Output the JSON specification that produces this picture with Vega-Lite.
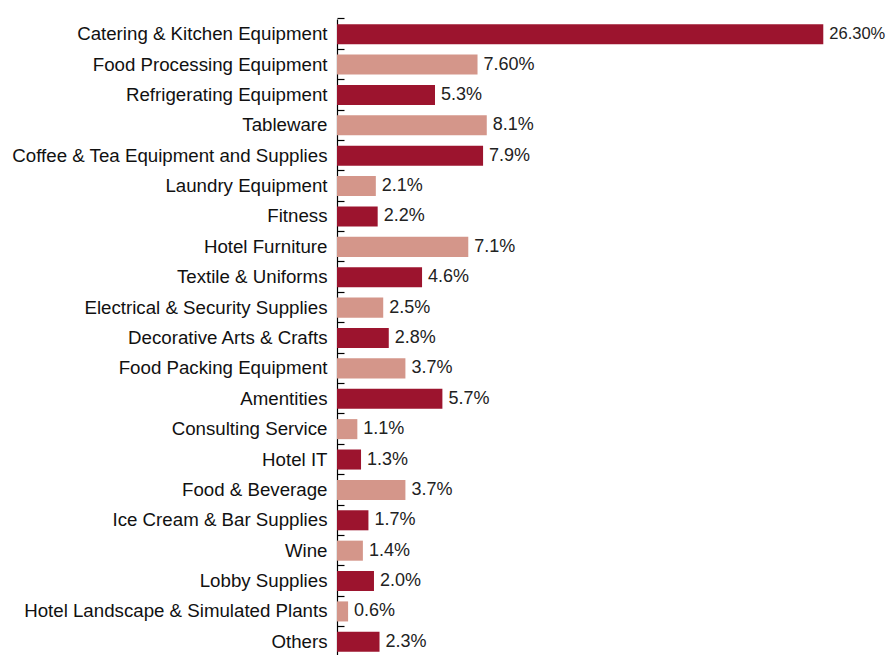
{
  "$schema": "https://vega.github.io/schema/vega-lite/v6.json",
  "autosize": {"type": "none"},
  "width": 551,
  "height": 638,
  "padding": {"left": 337, "top": 19, "right": 0, "bottom": 0},
  "background": "white",
  "config": {"view": {"stroke": null}, "font": "Liberation Sans"},
  "data": {"values": [
    {"category": "Catering & Kitchen Equipment", "value": 26.3, "label": "26.30%", "group": "a"},
    {"category": "Food Processing Equipment", "value": 7.6, "label": "7.60%", "group": "b"},
    {"category": "Refrigerating Equipment", "value": 5.3, "label": "5.3%", "group": "a"},
    {"category": "Tableware", "value": 8.1, "label": "8.1%", "group": "b"},
    {"category": "Coffee & Tea Equipment and Supplies", "value": 7.9, "label": "7.9%", "group": "a"},
    {"category": "Laundry Equipment", "value": 2.1, "label": "2.1%", "group": "b"},
    {"category": "Fitness", "value": 2.2, "label": "2.2%", "group": "a"},
    {"category": "Hotel Furniture", "value": 7.1, "label": "7.1%", "group": "b"},
    {"category": "Textile & Uniforms", "value": 4.6, "label": "4.6%", "group": "a"},
    {"category": "Electrical & Security Supplies", "value": 2.5, "label": "2.5%", "group": "b"},
    {"category": "Decorative Arts & Crafts", "value": 2.8, "label": "2.8%", "group": "a"},
    {"category": "Food Packing Equipment", "value": 3.7, "label": "3.7%", "group": "b"},
    {"category": "Amentities", "value": 5.7, "label": "5.7%", "group": "a"},
    {"category": "Consulting Service", "value": 1.1, "label": "1.1%", "group": "b"},
    {"category": "Hotel IT", "value": 1.3, "label": "1.3%", "group": "a"},
    {"category": "Food & Beverage", "value": 3.7, "label": "3.7%", "group": "b"},
    {"category": "Ice Cream & Bar Supplies", "value": 1.7, "label": "1.7%", "group": "a"},
    {"category": "Wine", "value": 1.4, "label": "1.4%", "group": "b"},
    {"category": "Lobby Supplies", "value": 2.0, "label": "2.0%", "group": "a"},
    {"category": "Hotel Landscape & Simulated Plants", "value": 0.6, "label": "0.6%", "group": "b"},
    {"category": "Others", "value": 2.3, "label": "2.3%", "group": "a"}
  ]},
  "encoding": {
    "y": {
      "field": "category", "type": "nominal", "sort": null,
      "scale": {"paddingInner": 0.34, "paddingOuter": 0.17},
      "axis": {
        "title": null, "domainColor": "#000", "domainWidth": 1.2,
        "tickColor": "#000", "tickSize": -7, "tickWidth": 1.2, "bandPosition": -0.26,
        "labelFontSize": 18.7, "labelColor": "#111", "labelPadding": 17, "labelLimit": 0,
        "labelFont": "Liberation Sans"
      }
    },
    "x": {
      "field": "value", "type": "quantitative",
      "scale": {"domain": [0, 29.8], "nice": false},
      "axis": null
    }
  },
  "layer": [
    {
      "mark": {"type": "bar"},
      "encoding": {
        "color": {
          "field": "group", "type": "nominal", "legend": null,
          "scale": {"domain": ["a", "b"], "range": ["#9C142E", "#D4968A"]}
        }
      }
    },
    {
      "mark": {"type": "text", "align": "left", "baseline": "middle", "dx": 6, "color": "#222", "font": "Liberation Sans"},
      "encoding": {
        "text": {"field": "label"},
        "size": {"condition": {"test": "datum.value > 20", "value": 16.5}, "value": 18}
      }
    }
  ]
}
